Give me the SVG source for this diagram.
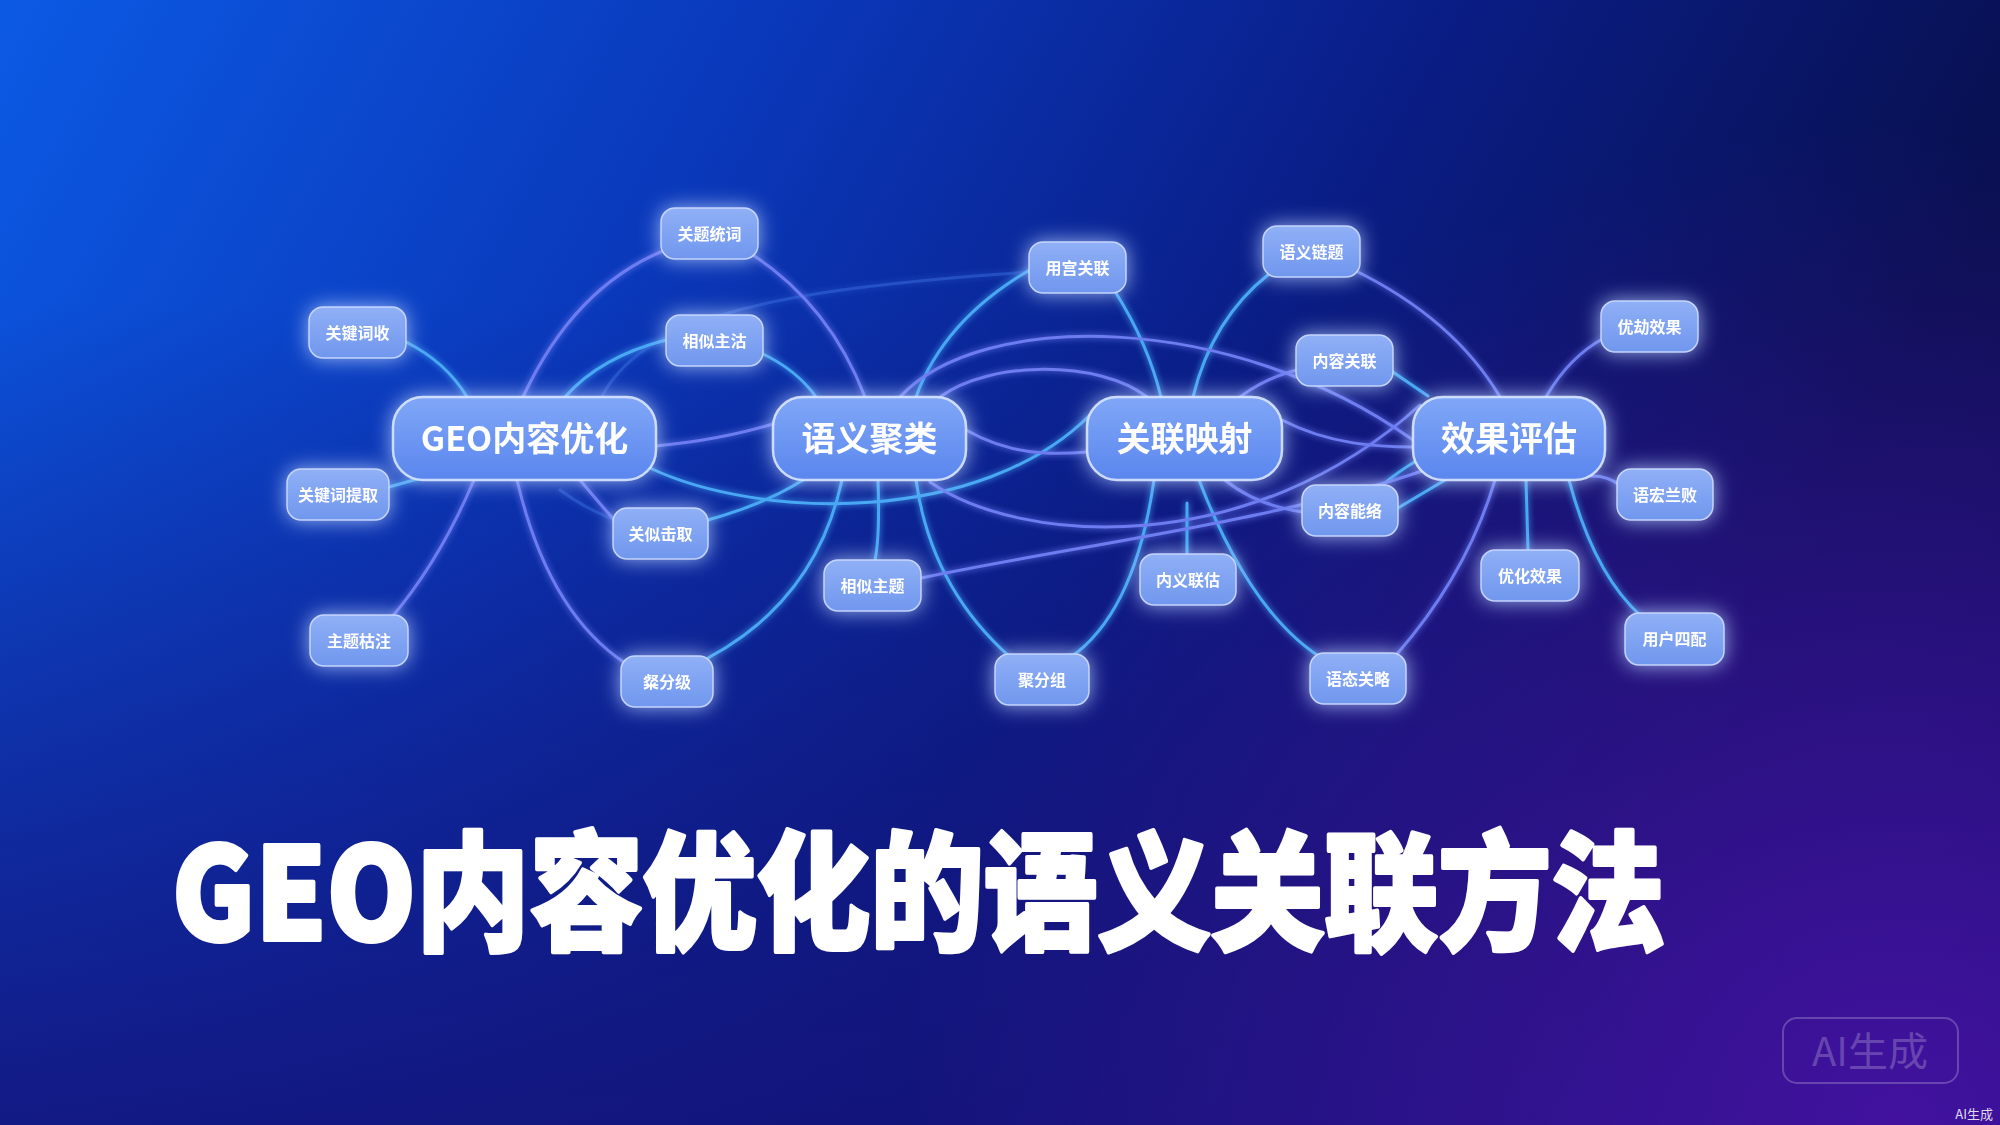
<svg xmlns="http://www.w3.org/2000/svg" width="2000" height="1125" viewBox="0 0 2000 1125">
<defs>
  <linearGradient id="bg" gradientUnits="userSpaceOnUse" x1="0" y1="0" x2="2000" y2="1125">
    <stop offset="0" stop-color="#0c5ae4"/>
    <stop offset="0.3" stop-color="#0a38ba"/>
    <stop offset="0.55" stop-color="#0a1d86"/>
    <stop offset="0.8" stop-color="#08104f"/>
    <stop offset="1" stop-color="#0a0a48"/>
  </linearGradient>
  <linearGradient id="bgv" gradientUnits="userSpaceOnUse" x1="0" y1="300" x2="0" y2="1125">
    <stop offset="0" stop-color="#12157a" stop-opacity="0"/>
    <stop offset="1" stop-color="#14137a" stop-opacity="0.85"/>
  </linearGradient>
  <radialGradient id="bgp" gradientUnits="userSpaceOnUse" cx="1900" cy="1125" r="1000">
    <stop offset="0" stop-color="#4a12a6" stop-opacity="0.85"/>
    <stop offset="1" stop-color="#4a12a6" stop-opacity="0"/>
  </radialGradient>
  <linearGradient id="gMain" x1="0" y1="0" x2="0" y2="1">
    <stop offset="0" stop-color="#80a7f7"/>
    <stop offset="1" stop-color="#5a86ee"/>
  </linearGradient>
  <linearGradient id="gSmall" x1="0" y1="0" x2="0" y2="1">
    <stop offset="0" stop-color="#90b0f6"/>
    <stop offset="1" stop-color="#7097ee"/>
  </linearGradient>
  <filter id="glow" x="-40%" y="-60%" width="180%" height="220%">
    <feGaussianBlur in="SourceAlpha" stdDeviation="10" result="b"/>
    <feFlood flood-color="#b3ccff" flood-opacity="0.85"/>
    <feComposite in2="b" operator="in" result="g"/>
    <feMerge><feMergeNode in="g"/><feMergeNode in="SourceGraphic"/></feMerge>
  </filter>
  <filter id="lglow" x="-10%" y="-10%" width="120%" height="120%">
    <feGaussianBlur in="SourceGraphic" stdDeviation="3" result="b"/>
    <feMerge><feMergeNode in="b"/><feMergeNode in="SourceGraphic"/></feMerge>
  </filter>
  <style>
    .c1 { fill: none; stroke: #48a8f4; stroke-width: 3; stroke-linecap: round; }
    .c2 { fill: none; stroke: #6d7cf0; stroke-width: 3; stroke-linecap: round; }
    .cf { fill: none; stroke: #3a6fe0; stroke-width: 3; stroke-opacity: 0.45; stroke-linecap: round; }
    .main rect { fill: url(#gMain); stroke: #d8e6ff; stroke-width: 2.5; stroke-opacity: 0.9; }
    .small rect { fill: url(#gSmall); stroke: #cddcff; stroke-width: 1.5; stroke-opacity: 0.9; }
    .main text { font-family: "Noto Sans CJK SC", "Noto Sans", sans-serif; font-size: 34px; font-weight: 700; fill: #ffffff; text-anchor: middle; }
    .small text { font-family: "Noto Sans CJK SC", "Noto Sans", sans-serif; font-size: 16px; font-weight: 700; fill: #ffffff; text-anchor: middle; }
    .title { font-family: "Noto Sans CJK SC", "Noto Sans", sans-serif; font-size: 128px; font-weight: 900; fill: #ffffff; stroke: #ffffff; stroke-width: 4; stroke-linejoin: round; }
  </style>
</defs>

<rect x="0" y="0" width="2000" height="1125" fill="url(#bg)"/>
<rect x="0" y="0" width="2000" height="1125" fill="url(#bgv)"/>
<rect x="0" y="0" width="2000" height="1125" fill="url(#bgp)"/>

<g id="connectors" filter="url(#lglow)">
  <path class="cf" d="M600,400 C640,320 760,290 1030,272"/>
  <path class="cf" d="M560,490 C600,520 640,530 700,540"/>
  <path class="c1" d="M406,342 Q446,362 467,397"/>
  <path class="c1" d="M389,487 L421,478"/>
  <path class="c2" d="M392,617 Q440,560 474,480"/>
  <path class="c2" d="M523,397 Q574,287 665,250"/>
  <path class="c2" d="M753,255 Q830,306 865,397"/>
  <path class="c1" d="M666,340 Q600,357 565,397"/>
  <path class="c1" d="M761,353 Q797,370 816,397"/>
  <path class="c2" d="M656,446 Q720,440 773,424"/>
  <path class="c2" d="M580,480 Q600,504 616,522"/>
  <path class="c1" d="M708,520 Q765,504 803,480"/>
  <path class="c2" d="M517,480 Q548,612 625,663"/>
  <path class="c1" d="M708,658 Q816,600 842,480"/>
  <path class="c1" d="M878,480 Q880,536 875,560"/>
  <path class="c1" d="M916,480 Q931,587 1010,657"/>
  <path class="c1" d="M1071,657 Q1135,612 1154,480"/>
  <path class="c1" d="M1187,503 L1187,554"/>
  <path class="c1" d="M1199,480 Q1250,612 1320,657"/>
  <path class="c2" d="M1397,654 Q1467,574 1495,480"/>
  <path class="c1" d="M1526,480 L1528,550"/>
  <path class="c1" d="M1569,480 Q1594,574 1641,616"/>
  <path class="c2" d="M1590,476 Q1606,475 1620,485"/>
  <path class="c2" d="M1546,397 Q1569,357 1604,338"/>
  <path class="c2" d="M1354,270 Q1454,319 1500,397"/>
  <path class="c1" d="M1269,274 Q1212,319 1193,397"/>
  <path class="c1" d="M1116,293 Q1148,344 1161,397"/>
  <path class="c1" d="M1033,268 Q944,319 916,397"/>
  <path class="c1" d="M1390,370 Q1409,383 1428,396"/>
  <path class="c2" d="M1297,370 Q1265,378 1240,397"/>
  <path class="c1" d="M1380,487 Q1400,470 1418,460"/>
  <path class="c1" d="M1398,508 Q1420,495 1445,480"/>
  <path class="c2" d="M1225,480 Q1255,505 1303,512"/>
  <path class="c1" d="M650,468 C760,520 980,525 1090,415"/>
  <path class="c2" d="M930,482 C1020,545 1250,560 1420,405"/>
  <path class="c2" d="M921,578 C1080,545 1280,520 1425,470"/>
  <path class="c2" d="M900,397 C980,310 1230,310 1413,440"/>
  <path class="c2" d="M966,430 C1010,455 1050,455 1087,452"/>
  <path class="c2" d="M1282,420 C1330,445 1380,447 1413,447"/>
  <path class="c2" d="M940,397 C990,360 1100,360 1147,397"/>
</g>

<g id="n-geo" class="main" filter="url(#glow)"><rect x="393" y="397" width="263" height="83" rx="30"/><text x="524.5" y="451">GEO内容优化</text></g>
<g id="n-cluster" class="main" filter="url(#glow)"><rect x="773" y="397" width="193" height="83" rx="30"/><text x="869.5" y="451">语义聚类</text></g>
<g id="n-map" class="main" filter="url(#glow)"><rect x="1087" y="397" width="195" height="83" rx="30"/><text x="1184.5" y="451">关联映射</text></g>
<g id="n-eval" class="main" filter="url(#glow)"><rect x="1413" y="397" width="192" height="83" rx="30"/><text x="1509" y="451">效果评估</text></g>

<g id="s1" class="small" filter="url(#glow)"><rect x="661" y="208" width="97" height="51" rx="14"/><text x="709.5" y="239.5">关题统词</text></g>
<g id="s2" class="small" filter="url(#glow)"><rect x="309" y="307" width="97" height="51" rx="14"/><text x="357.5" y="338.5">关键词收</text></g>
<g id="s3" class="small" filter="url(#glow)"><rect x="666" y="315" width="97" height="51" rx="14"/><text x="714.5" y="346.5">相似主沽</text></g>
<g id="s4" class="small" filter="url(#glow)"><rect x="287" y="469" width="102" height="51" rx="14"/><text x="338" y="500.5">关键词提取</text></g>
<g id="s5" class="small" filter="url(#glow)"><rect x="613" y="508" width="95" height="51" rx="14"/><text x="660.5" y="539.5">关似击取</text></g>
<g id="s6" class="small" filter="url(#glow)"><rect x="310" y="615" width="98" height="51" rx="14"/><text x="359" y="646.5">主题枯注</text></g>
<g id="s7" class="small" filter="url(#glow)"><rect x="621" y="656" width="92" height="51" rx="14"/><text x="667" y="687.5">粲分级</text></g>
<g id="s8" class="small" filter="url(#glow)"><rect x="824" y="560" width="97" height="51" rx="14"/><text x="872.5" y="591.5">相似主题</text></g>
<g id="s9" class="small" filter="url(#glow)"><rect x="995" y="654" width="94" height="51" rx="14"/><text x="1042" y="685.5">聚分组</text></g>
<g id="s10" class="small" filter="url(#glow)"><rect x="1029" y="242" width="97" height="51" rx="14"/><text x="1077.5" y="273.5">用宫关联</text></g>
<g id="s11" class="small" filter="url(#glow)"><rect x="1263" y="226" width="97" height="51" rx="14"/><text x="1311.5" y="257.5">语义链题</text></g>
<g id="s12" class="small" filter="url(#glow)"><rect x="1296" y="335" width="97" height="51" rx="14"/><text x="1344.5" y="366.5">内容关联</text></g>
<g id="s13" class="small" filter="url(#glow)"><rect x="1302" y="485" width="96" height="51" rx="14"/><text x="1350" y="516.5">内容能络</text></g>
<g id="s14" class="small" filter="url(#glow)"><rect x="1140" y="554" width="96" height="51" rx="14"/><text x="1188" y="585.5">内义联估</text></g>
<g id="s15" class="small" filter="url(#glow)"><rect x="1310" y="653" width="96" height="51" rx="14"/><text x="1358" y="684.5">语态关略</text></g>
<g id="s16" class="small" filter="url(#glow)"><rect x="1601" y="301" width="97" height="51" rx="14"/><text x="1649.5" y="332.5">优劫效果</text></g>
<g id="s17" class="small" filter="url(#glow)"><rect x="1617" y="469" width="96" height="51" rx="14"/><text x="1665" y="500.5">语宏兰败</text></g>
<g id="s18" class="small" filter="url(#glow)"><rect x="1481" y="550" width="98" height="51" rx="14"/><text x="1530" y="581.5">优化效果</text></g>
<g id="s19" class="small" filter="url(#glow)"><rect x="1625" y="613" width="99" height="52" rx="14"/><text x="1674.5" y="645">用户四配</text></g>

<text class="title" x="172" y="940" textLength="1493" lengthAdjust="spacingAndGlyphs">GEO内容优化的语义关联方法</text>

<g id="watermark">
  <rect x="1783" y="1018" width="175" height="65" rx="14" fill="none" stroke="#ffffff" stroke-opacity="0.22" stroke-width="2"/>
  <text x="1870" y="1066" font-family="Noto Sans CJK SC, Noto Sans, sans-serif" font-size="40" fill="#ffffff" fill-opacity="0.22" text-anchor="middle">AI生成</text>
  <text x="1993" y="1119" font-family="Noto Sans CJK SC, Noto Sans, sans-serif" font-size="13" fill="#ffffff" fill-opacity="0.85" text-anchor="end">AI生成</text>
</g>
</svg>
